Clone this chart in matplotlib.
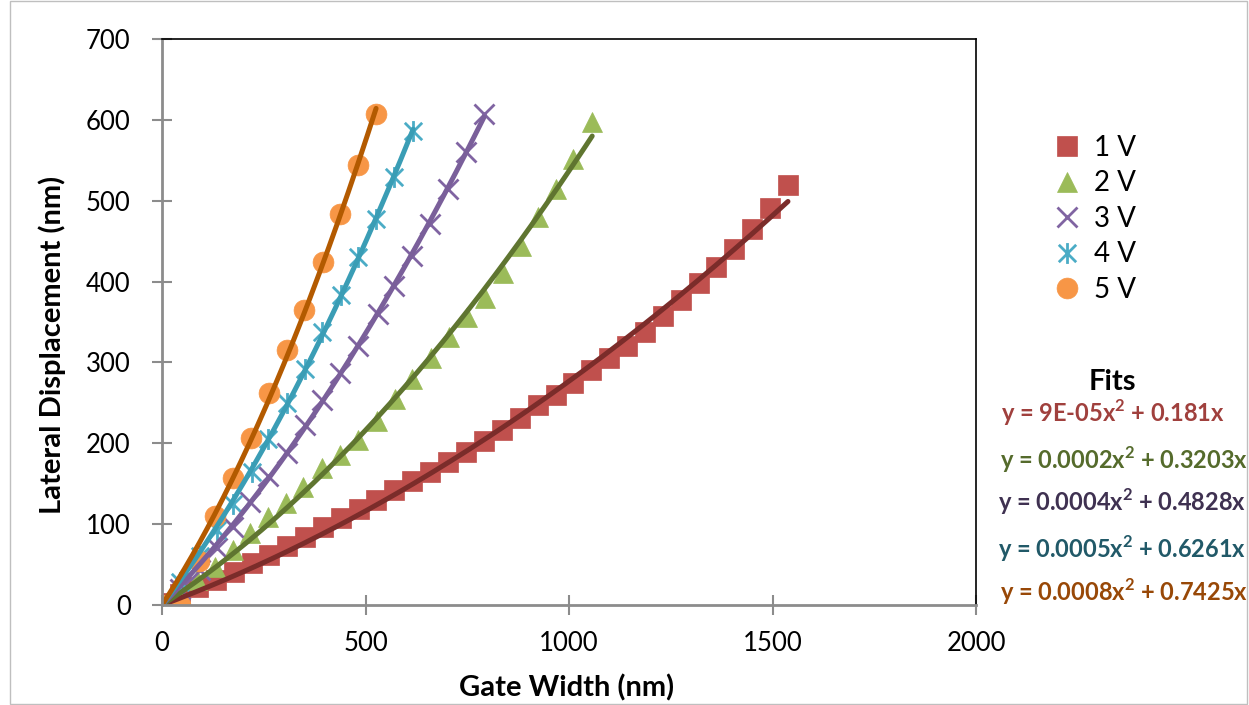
import numpy as np
import matplotlib.pyplot as plt
from matplotlib.path import Path
from matplotlib.lines import Line2D

plt.rcParams['font.family'] = ['Lato', 'DejaVu Sans']
plt.rcParams['mathtext.fontset'] = 'custom'
plt.rcParams['mathtext.rm'] = 'Lato'
plt.rcParams['mathtext.bf'] = 'Lato:bold'

# data (gate width nm, lateral displacement nm)
x1 = [0, 44, 88, 132, 176, 220, 264, 308, 352, 396, 440, 484, 527, 571, 615, 659, 703, 747,
      791, 835, 879, 923, 967, 1011, 1055, 1099, 1143, 1187, 1231, 1275, 1319, 1362, 1406,
      1450, 1494, 1538]
y1 = [2, 14, 22, 31, 41, 52, 62, 73, 84, 96, 107, 119, 130, 142, 153, 165, 177, 189,
      203, 217, 231, 247, 260, 275, 291, 306, 320, 338, 357, 377, 398, 418, 440,
      465, 491, 519]
x2 = [0, 43, 86, 130, 174, 216, 260, 305, 346, 393, 437, 482, 528, 572, 614, 661, 705, 749,
      794, 838, 882, 924, 968, 1010, 1057]
y2 = [0, 14, 31, 47, 68, 89, 109, 126, 146, 170, 186, 204, 227, 255, 280, 305, 331, 356,
      380, 411, 444, 480, 514, 551, 597]
x3 = [0, 44, 93, 135, 174, 216, 260, 307, 351, 393, 437, 482, 530, 570, 614, 658, 703, 747, 791]
y3 = [0, 20, 43, 71, 97, 128, 159, 188, 223, 254, 287, 320, 360, 395, 432, 471, 514, 560, 607]
x4 = [0, 44, 93, 135, 174, 221, 260, 307, 351, 393, 440, 482, 526, 570, 617]
y4 = [0, 28, 60, 93, 125, 165, 205, 250, 292, 338, 384, 431, 477, 529, 586]
x5 = [0, 44, 90, 130, 174, 219, 263, 307, 349, 395, 437, 482, 526]
y5 = [0, 0, 55, 110, 157, 207, 262, 315, 365, 424, 484, 544, 607]

labels = ['1 V', '2 V', '3 V', '4 V', '5 V']
fit_texts = ['y = 9E-05x$^{\\mathbf{2}}$ + 0.181x',
             'y = 0.0002x$^{\\mathbf{2}}$ + 0.3203x',
             'y = 0.0004x$^{\\mathbf{2}}$ + 0.4828x',
             'y = 0.0005x$^{\\mathbf{2}}$ + 0.6261x',
             'y = 0.0008x$^{\\mathbf{2}}$ + 0.7425x']

marker_colors = ['#C0504D', '#9BBB59', '#8064A2', '#4BACC6', '#F79646']
line_colors = ['#7B2C2A', '#5F7530', '#7A5F9A', '#3A9DB5', '#B35A00']
text_colors = ['#A0403D', '#556B2C', '#3F3151', '#215968', '#984807']

asterisk = Path([(-1, -1), (1, 1), (-1, 1), (1, -1), (0, -1.2), (0, 1.2)],
                [Path.MOVETO, Path.LINETO, Path.MOVETO, Path.LINETO, Path.MOVETO, Path.LINETO])
markers = ['s', '^', 'x', asterisk, 'o']
msizes = [14, 14, 14, 15, 15]

series = [(x1, y1), (x2, y2), (x3, y3), (x4, y4), (x5, y5)]

fig = plt.figure(figsize=(12.49, 7.05), dpi=100)
ax = fig.add_axes([162 / 1249, 1 - 605 / 705, (976 - 162) / 1249, (605 - 39) / 705])

handles = []
for i, (xs, ys) in enumerate(series):
    xs = np.array(xs, dtype=float)
    ys = np.array(ys, dtype=float)
    filled = i not in (2, 3)
    mkw = dict(marker=markers[i], markersize=msizes[i], linestyle='none')
    if filled:
        mkw.update(markerfacecolor=marker_colors[i], markeredgecolor=marker_colors[i],
                   markeredgewidth=0.5)
    else:
        mkw.update(markerfacecolor='none', markeredgecolor=marker_colors[i],
                   markeredgewidth=2)
    ax.plot(xs, ys, zorder=3, **mkw)
    handles.append(Line2D([], [], **mkw))

    # polynomial trendline through origin (like Excel's)
    A = np.column_stack([xs ** 2, xs])
    coef, *_ = np.linalg.lstsq(A, ys, rcond=None)
    xf = np.linspace(0, xs.max(), 200)
    ax.plot(xf, coef[0] * xf ** 2 + coef[1] * xf, color=line_colors[i], lw=3.6,
            solid_capstyle='round', zorder=4)

ax.set_xlim(0, 2000)
ax.set_ylim(0, 700)
ax.set_xticks([0, 500, 1000, 1500, 2000])
ax.set_yticks(range(0, 701, 100))
ax.tick_params(direction='inout', length=15, width=1.5, color='#8C8C8C',
               labelsize=18.5, pad=11)
ax.tick_params(axis='y', pad=15)
for s in ['left', 'bottom']:
    ax.spines[s].set_color('#8C8C8C')
    ax.spines[s].set_linewidth(2)
for s in ['top', 'right']:
    ax.spines[s].set_color('black')
    ax.spines[s].set_linewidth(1.2)
for s in ax.spines.values():
    s.set_zorder(5)

fig.text(52 / 1249, 1 - 345 / 705, 'Lateral Displacement (nm)', rotation=90,
         ha='center', va='center', fontsize=21, fontweight='bold')
fig.text(567 / 1249, 1 - 688 / 705, 'Gate Width (nm)', ha='center', va='center',
         fontsize=21, fontweight='bold')

fig.legend(handles, labels, loc='upper left', bbox_to_anchor=(1025 / 1249, 1 - 110 / 705),
           frameon=False, fontsize=20, labelspacing=0.34, handletextpad=0.4,
           handlelength=1.2)

fig.text(1112 / 1249, 1 - 382 / 705, 'Fits', ha='center', va='center',
         fontsize=21, fontweight='bold')
eq_pos = [(1113, 413), (1124, 460), (1122, 502), (1122, 549), (1124, 592)]
for (px, py), t, c in zip(eq_pos, fit_texts, text_colors):
    fig.text(px / 1249, 1 - py / 705, t, ha='center', va='center', fontsize=17,
             fontweight='bold', color=c)

# outer chart border
fig.add_artist(plt.Rectangle((10 / 1249, 0.002), 1 - 12 / 1249, 0.996,
                             transform=fig.transFigure, fill=False,
                             edgecolor='#BFBFBF', lw=1))

fig.savefig('out.png', dpi=100)
